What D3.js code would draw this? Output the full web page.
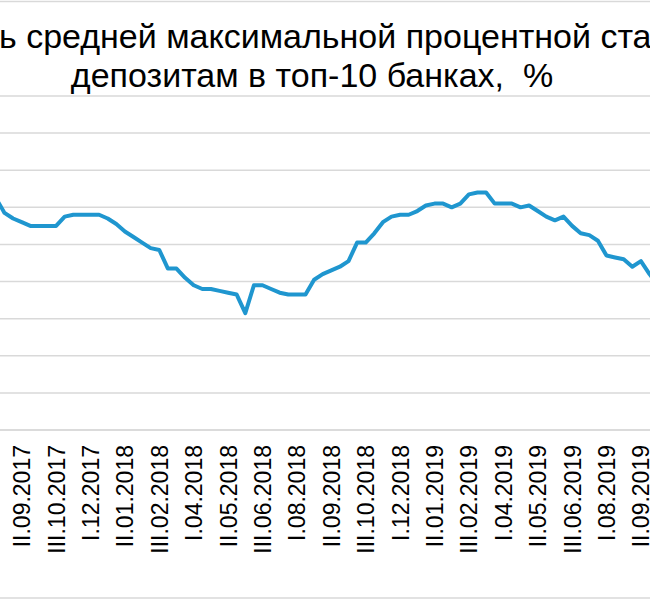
<!DOCTYPE html>
<html><head><meta charset="utf-8">
<script src="https://cdn.jsdelivr.net/npm/d3@7"></script>
<style>body{margin:0;background:#fff}svg{display:block}</style>
</head><body>
<svg id="c" width="650" height="600"></svg>
<script>
const titleLines = ["Уровень средней максимальной процентной ставки по", "депозитам в топ-10 банках,  %"];
const categories = [
 "II.08.2017","III.08.2017","I.09.2017","II.09.2017","III.09.2017","I.10.2017","II.10.2017","III.10.2017",
 "I.11.2017","II.11.2017","III.11.2017","I.12.2017","II.12.2017","III.12.2017","I.01.2018","II.01.2018",
 "III.01.2018","I.02.2018","II.02.2018","III.02.2018","I.03.2018","II.03.2018","III.03.2018","I.04.2018",
 "II.04.2018","III.04.2018","I.05.2018","II.05.2018","III.05.2018","I.06.2018","II.06.2018","III.06.2018",
 "I.07.2018","II.07.2018","III.07.2018","I.08.2018","II.08.2018","III.08.2018","I.09.2018","II.09.2018",
 "III.09.2018","I.10.2018","II.10.2018","III.10.2018","I.11.2018","II.11.2018","III.11.2018","I.12.2018",
 "II.12.2018","III.12.2018","I.01.2019","II.01.2019","III.01.2019","I.02.2019","II.02.2019","III.02.2019",
 "I.03.2019","II.03.2019","III.03.2019","I.04.2019","II.04.2019","III.04.2019","I.05.2019","II.05.2019",
 "III.05.2019","I.06.2019","II.06.2019","III.06.2019","I.07.2019","II.07.2019","III.07.2019","I.08.2019",
 "II.08.2019","III.08.2019","I.09.2019","II.09.2019","III.09.2019","I.10.2019"
];
const rates = [
 7.65,7.57,7.54,7.52,7.50,7.50,7.50,7.50,
 7.55,7.56,7.56,7.56,7.56,7.54,7.51,7.47,
 7.44,7.41,7.38,7.37,7.27,7.27,7.22,7.18,
 7.16,7.16,7.15,7.14,7.13,7.03,7.18,7.18,
 7.16,7.14,7.13,7.13,7.13,7.21,7.24,7.26,
 7.28,7.31,7.41,7.41,7.46,7.52,7.55,7.56,
 7.56,7.58,7.61,7.62,7.62,7.60,7.62,7.67,
 7.68,7.68,7.62,7.62,7.62,7.60,7.61,7.58,
 7.55,7.53,7.55,7.50,7.46,7.45,7.42,7.34,
 7.33,7.32,7.28,7.31,7.24,7.18
];
const tickLabels = ["II.09.2017","III.10.2017","I.12.2017","II.01.2018","III.02.2018","I.04.2018",
 "II.05.2018","III.06.2018","I.08.2018","II.09.2018","III.10.2018","I.12.2018","II.01.2019",
 "III.02.2019","I.04.2019","II.05.2019","III.06.2019","I.08.2019","II.09.2019"];
const yTicks = [6.4,6.6,6.8,7.0,7.2,7.4,7.6,7.8,8.0,8.2];

const svg = d3.select("#c");
const font = "Arial, 'Liberation Sans', sans-serif";

// outer chart border (cropped at left/right)
svg.append("rect").attr("x",-10).attr("y",1.5).attr("width",670).attr("height",596.5)
  .attr("fill","none").attr("stroke","#d9d9d9").attr("stroke-width",1.5);

const x = d3.scalePoint().domain(categories).range([-4.1, 658.1]);
const y = d3.scaleLinear().domain([6.4, 8.2]).range([430, 96]);

// gridlines
svg.append("g").selectAll("line").data(yTicks).join("line")
  .attr("x1",-10).attr("x2",660)
  .attr("y1",d=>y(d)).attr("y2",d=>y(d))
  .attr("stroke","#d9d9d9").attr("stroke-width",1.5);

// x axis
const xAxis = d3.axisBottom(x).tickValues(tickLabels).tickSize(0).tickPadding(0);
const gx = svg.append("g").attr("transform","translate(0,430)").call(xAxis);
gx.select(".domain").attr("stroke","#d9d9d9").attr("stroke-width",1.5).attr("d","M-10,0H660");
gx.selectAll("text")
  .attr("font-family",font).attr("font-size",23).attr("fill","#000")
  .attr("text-anchor","end")
  .attr("transform","rotate(-90)")
  .attr("x",-15).attr("y",0).attr("dy","0.35em");

// line
const line = d3.line().x((d,i)=>x(categories[i])).y(d=>y(d));
svg.append("path").datum(rates)
  .attr("d",line).attr("fill","none")
  .attr("stroke","#1f96cf").attr("stroke-width",4)
  .attr("stroke-linejoin","round").attr("stroke-linecap","round");

// title
const t1 = svg.append("text").attr("font-family",font).attr("font-size",34).attr("fill","#000")
  .attr("y",48).text(titleLines[0]);
const off = t1.node().getSubStringLength(0,6);
t1.attr("x", -1 - off);
svg.append("text").attr("font-family",font).attr("font-size",34).attr("fill","#000")
  .style("white-space","pre")
  .attr("x",312).attr("y",87).attr("text-anchor","middle").text(titleLines[1]);
</script>
</body></html>
